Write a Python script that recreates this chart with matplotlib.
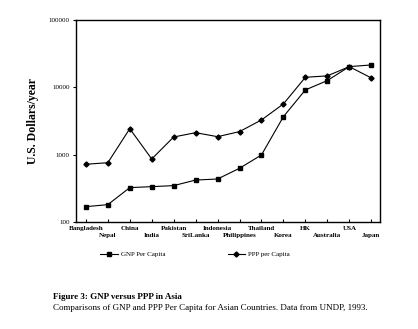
import matplotlib
matplotlib.use("Agg")
import matplotlib.pyplot as plt

countries = ["Bangladesh", "Nepal", "China", "India", "Pakistan", "SriLanka",
             "Indonesia", "Philippines", "Thailand", "Korea", "HK",
             "Australia", "USA", "Japan"]
gnp = [169, 181, 324, 335, 347, 420, 435, 628, 990, 3670, 9150, 12600, 20300, 21500]
ppp = [720, 760, 2430, 863, 1830, 2120, 1850, 2200, 3280, 5670, 14100, 14800, 20300, 13800]
yticks = [100, 1000, 10000, 100000]

plt.rcParams['font.family'] = ['Liberation Serif', 'DejaVu Serif']

fig = plt.figure(figsize=(4.18, 3.29), dpi=100)
ax = fig.add_axes([76 / 418, 1 - 222 / 329, 304 / 418, 202 / 329])

x = list(range(len(countries)))
l1, = ax.plot(x, gnp, color="black", lw=0.8, marker="s", ms=3.2)
l2, = ax.plot(x, ppp, color="black", lw=0.8, marker="D", ms=2.6)

ax.set_yscale("log")
ax.set_ylim(100, 100000)
ax.set_xlim(-0.45, 13.4)
ax.set_yticks(yticks)
ax.set_yticklabels([str(v) for v in yticks], fontsize=5)
ax.minorticks_off()
ax.tick_params(axis="y", direction="out", length=2.5, width=0.8, pad=2)
ax.set_xticks(x)
ax.set_xticklabels([])
ax.tick_params(axis="x", direction="in", length=2.5, width=0.8)
for i, name in enumerate(countries):
    off = 0 if i % 2 == 0 else 7
    ax.annotate(name, (i, 100), xytext=(0, -4 - off), textcoords="offset pixels",
                ha="center", va="top", fontsize=5, fontweight="bold",
                annotation_clip=False)
for s in ax.spines.values():
    s.set_linewidth(1.0)
ax.set_ylabel("U.S. Dollars/year", fontsize=8.5, fontweight="bold", labelpad=7)

fig.legend([l1, l2], ["GNP Per Capita", "PPP per Capita"], loc="center",
           bbox_to_anchor=(195 / 418, 1 - 254 / 329), ncol=2, frameon=False,
           fontsize=5, handlelength=2.5, columnspacing=9, handletextpad=0.4)

fig.text(53 / 418, 1 - 297 / 329, "Figure 3: GNP versus PPP in Asia",
         fontsize=6.5, fontweight="bold", va="center")
fig.text(53 / 418, 1 - 308 / 329,
         "Comparisons of GNP and PPP Per Capita for Asian Countries. Data from UNDP, 1993.",
         fontsize=6.5, va="center")

fig.savefig("out.png", dpi=100)
